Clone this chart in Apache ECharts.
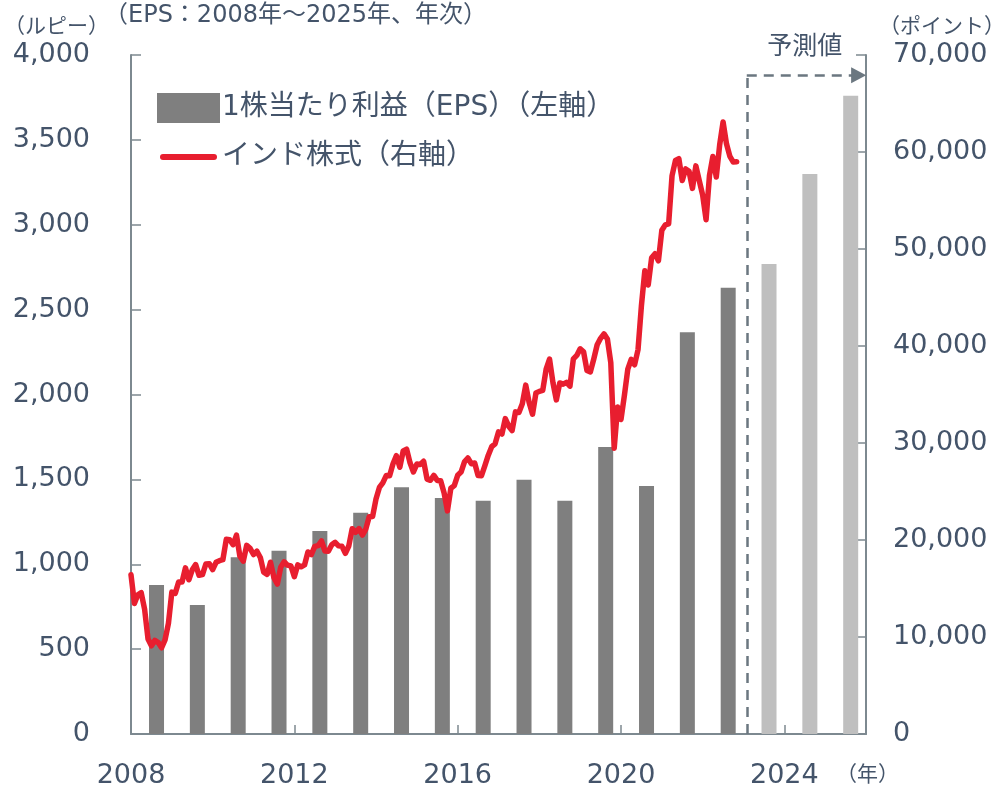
<!DOCTYPE html>
<html><head><meta charset="utf-8">
<script src="https://cdn.jsdelivr.net/npm/echarts@6/dist/echarts.min.js"></script>
<style>html,body{margin:0;padding:0;background:#fff}#c{width:997px;height:789px}</style>
</head><body><div id="c"></div>
<script>
// ---- data ----
const years = [2008,2009,2010,2011,2012,2013,2014,2015,2016,2017,2018,2019,2020,2021,2022,2023,2024,2025];
const eps   = [878,760,1041,1080,1196,1304,1453,1390,1374,1498,1374,1691,1461,2366,2629,2769,3299,3760];
const forecastFrom = 2023;
// Indian equities (monthly), first point drawn at the start of the axis
const stock = [
  16416,13462,14356,14565,12860,9788,9093,9647,
  9424,8892,9709,11403,14625,14494,15670,15667,17127,15896,16926,17465,
  16358,16430,17528,17559,16945,17701,17868,17971,20069,20032,19521,20509,
  18328,17823,19445,19136,18503,18846,18197,16676,16454,17705,16123,15455,
  17194,17753,17404,17319,16219,17430,17236,17430,18763,18505,19340,19427,
  19895,18862,18836,19504,19760,19396,19346,18620,19380,21165,20792,21171,
  20514,21120,22386,22418,24217,25414,25895,26638,26631,27866,28694,27499,
  29183,29362,27957,27011,27828,27781,28115,26283,26155,26657,26146,26118,
  24871,23002,25342,25607,26668,26999,28052,28452,27866,27930,26653,26626,
  27656,28743,29621,29918,31146,30922,32515,31730,31284,33213,33149,34057,
  35965,34184,32969,35160,35322,35423,37607,38645,36227,34442,36194,36068,
  36257,35867,38673,39032,39714,39395,37481,37333,38667,40129,40794,41254,
  40723,38297,29468,33718,32424,34916,37607,38628,38068,39614,44150,47751,
  46286,49100,49509,48782,51937,52483,52587,57552,59126,59307,57065,58254,
  58014,56247,58569,57061,55566,53019,57570,59537,57427,60747,63100,60841,
  59550,58962,58992
];
const stockStart = 2008;
const xTicks = [2008, 2012, 2016, 2020, 2024];
const leftAxis = {min: 0, max: 4000, step: 500};
const rightAxis = {min: 0, max: 70000, step: 10000};
const forecastLineX = 2023.08, forecastLineY = 3880;
const names = {eps: '1株当たり利益（EPS）（左軸）', stock: 'インド株式（右軸）'};

// ---- style ----
const TXT = '#44546A', AX = '#7d8990', RED = '#e81e2f';
const FONT = "'DejaVu Sans','Noto Sans CJK JP',sans-serif";
const JFONT = "'Noto Sans CJK JP','DejaVu Sans',sans-serif";
const barOffset = 0.625;
const fmt = v => Number(v).toLocaleString('en-US');
const lineIcon = 'path://M0,0M63,30M6,12L57,12A3,3,0,0,1,57,18L6,18A3,3,0,0,1,6,12Z';

const chart = echarts.init(document.getElementById('c'), null, {renderer: 'canvas'});
const option = {
  backgroundColor: '#fff',
  animation: false,
  grid: {left: 131, right: 131, top: 55, bottom: 55, containLabel: false},
  legend: {
    orient: 'vertical', left: 157, top: 93, padding: 0, itemWidth: 63, itemHeight: 30, itemGap: 19,
    textStyle: {color: TXT, fontSize: 28, lineHeight: 30, fontFamily: FONT, padding: [0, 0, 0, -3]},
    data: [{name: names.eps, icon: 'rect'}, {name: names.stock, icon: lineIcon, itemStyle: {color: RED}}]
  },
  xAxis: {
    type: 'value', min: xTicks[0], max: 2026, interval: xTicks[1] - xTicks[0],
    splitLine: {show: false},
    axisLine: {lineStyle: {color: AX, width: 2}},
    axisTick: {inside: true, length: 9, lineStyle: {color: AX, width: 1.5}},
    axisLabel: {color: TXT, fontSize: 27, fontFamily: FONT, margin: 28, showMaxLabel: false,
      formatter: v => xTicks.includes(v) ? String(v) : ''}
  },
  yAxis: [
    {type: 'value', min: leftAxis.min, max: leftAxis.max, interval: leftAxis.step,
     splitLine: {show: false},
     axisLine: {show: true, lineStyle: {color: AX, width: 2}},
     axisTick: {show: true, inside: true, length: 10, lineStyle: {color: AX, width: 1.5}},
     axisLabel: {color: TXT, fontSize: 27, fontFamily: FONT, margin: 41, formatter: fmt}},
    {type: 'value', min: rightAxis.min, max: rightAxis.max, interval: rightAxis.step,
     splitLine: {show: false},
     axisLine: {show: true, lineStyle: {color: AX, width: 2}},
     axisTick: {show: true, inside: true, length: 10, lineStyle: {color: AX, width: 1.5}},
     axisLabel: {color: TXT, fontSize: 27, fontFamily: FONT, margin: 27, formatter: fmt}}
  ],
  series: [
    {
      name: names.eps, type: 'bar', yAxisIndex: 0, barWidth: 15,
      itemStyle: {color: '#7f7f7f'},
      data: years.map((y, i) => ({value: [y + barOffset, eps[i]],
        itemStyle: {color: y >= forecastFrom ? '#bfbfbf' : '#7f7f7f'}})),
      markLine: {
        silent: true, animation: false, label: {show: false},
        lineStyle: {color: '#6b7780', type: [10, 7], width: 2.5},
        data: [
          [{coord: [forecastLineX, 0], symbol: 'none'}, {coord: [forecastLineX, forecastLineY], symbol: 'none'}],
          [{coord: [forecastLineX, forecastLineY], symbol: 'none'},
           {coord: [2025.82, forecastLineY], symbol: 'triangle', symbolSize: [16, 15]}]
        ]
      },
      z: 2
    },
    {
      name: names.stock, type: 'line', yAxisIndex: 1, symbol: 'none', showSymbol: false,
      lineStyle: {color: RED, width: 5.5, cap: 'round', join: 'round'},
      itemStyle: {color: RED},
      data: stock.map((v, i) => [stockStart + i / 12, v]),
      z: 3
    }
  ]
};
chart.setOption(option);

const p = chart.convertToPixel({xAxisIndex: 0, yAxisIndex: 0}, [2024.5, 4060]);
chart.setOption({
  graphic: [
    {type: 'text', left: 4, top: 15, style: {text: '（ルピー）', fill: TXT, font: `21px ${JFONT}`}},
    {type: 'text', left: 104, top: 4, style: {text: '（EPS：2008年～2025年、年次）', fill: TXT, font: `24px ${FONT}`}},
    {type: 'text', right: -8, top: 15, style: {text: '（ポイント）', fill: TXT, font: `21px ${JFONT}`}},
    {type: 'text', left: 836, top: 763, style: {text: '（年）', fill: TXT, font: `21px ${JFONT}`}},
    {type: 'text', x: p[0], y: p[1], style: {text: '予測値', fill: TXT, font: `25px ${JFONT}`, align: 'center', verticalAlign: 'middle'}}
  ]
});
</script>
</body></html>
